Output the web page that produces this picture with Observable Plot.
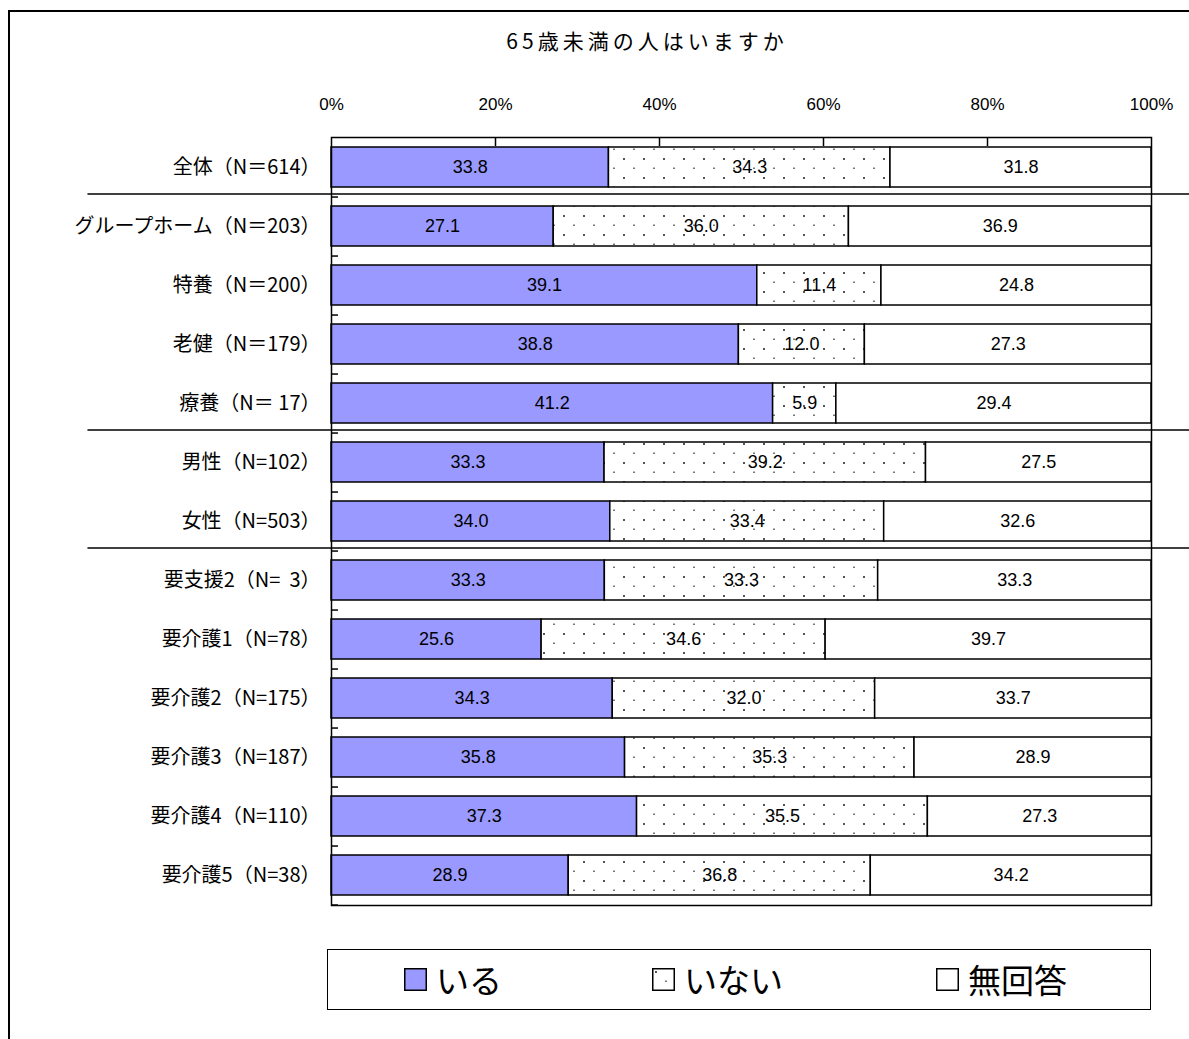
<!DOCTYPE html>
<html><head><meta charset="utf-8">
<script src="https://cdn.jsdelivr.net/npm/d3@7"></script>
<script src="https://cdn.jsdelivr.net/npm/@observablehq/plot@0.6"></script>
<style>
body{margin:0;background:#fff;overflow:hidden;width:1189px;height:1039px;position:relative;font-family:"Noto Sans CJK JP",sans-serif;color:#000}
#frame{position:absolute;left:8px;top:10px;width:1400px;height:1200px;border:2px solid #000;box-sizing:border-box}
#title{position:absolute;left:0;width:1294px;top:25px;text-align:center;font-size:21px;letter-spacing:4px;line-height:30px}
#chart{position:absolute;left:0;top:60px}
#chart svg text{white-space:pre}
#legend{position:absolute;left:327px;top:949px;width:824px;height:61px;border:1.5px solid #000;box-sizing:border-box;background:#fff}
.item{position:absolute;top:0;height:58px;display:flex;align-items:center;font-size:33px;line-height:58px}
.item svg{margin-right:9px}
</style></head>
<body>
<div id="frame"></div>
<div id="title">65歳未満の人はいますか</div>
<div id="chart"></div>
<div id="legend"></div>
<script>
const categories = ["全体（N＝614）", "グループホーム（N＝203）", "特養（N＝200）", "老健（N＝179）", "療養（N＝ 17）", "男性（N=102）", "女性（N=503）", "要支援2（N=  3）", "要介護1（N=78）", "要介護2（N=175）", "要介護3（N=187）", "要介護4（N=110）", "要介護5（N=38）"];
const series = ["いる", "いない", "無回答"];
const iru      = [33.8, 27.1, 39.1, 38.8, 41.2, 33.3, 34.0, 33.3, 25.6, 34.3, 35.8, 37.3, 28.9];
const inai     = [34.3, 36.0, 11.4, 12.0, 5.9, 39.2, 33.4, 33.3, 34.6, 32.0, 35.3, 35.5, 36.8];
const mukaitou = [31.8, 36.9, 24.8, 27.3, 29.4, 27.5, 32.6, 33.3, 39.7, 33.7, 28.9, 27.3, 34.2];
const groupEnds = ["全体（N＝614）", "療養（N＝ 17）", "女性（N=503）"];
const xTicks = [0, 0.2, 0.4, 0.6, 0.8, 1];
const seriesFill = ["#9999FF", "url(#dots)", "#FFFFFF"];

const values = [iru, inai, mukaitou];
const data = [];
categories.forEach((c, i) => series.forEach((s, j) => data.push({cat: c, series: s, value: values[j][i]})));

const marginTop = 77, plotH = 768, marginBottom = 6;
const step = plotH / categories.length;
const numFont = "'Liberation Sans', Arial, sans-serif";

const plot = Plot.plot({
  width: 1189,
  height: marginTop + plotH + marginBottom,
  marginTop, marginBottom,
  marginLeft: 331, marginRight: 38,
  style: {background: "transparent", color: "#000", overflow: "visible"},
  x: {domain: [0, 1], label: null},
  y: {domain: categories, paddingInner: 0.32, paddingOuter: 0.16, label: null},
  color: {domain: series, range: seriesFill},
  marks: [
    Plot.barX(data, Plot.stackX({x: "value", y: "cat", z: "series", fill: "series", offset: "normalize", stroke: "#000", strokeWidth: 1.5})),
    Plot.text(data, Plot.stackX({x: "value", y: "cat", z: "series", offset: "normalize", text: d => d.value.toFixed(1), fontSize: 18, fontFamily: numFont, fill: "#000"})),
    Plot.frame({stroke: "#000", strokeWidth: 1.5}),
    Plot.axisX({anchor: "top", label: null, ticks: xTicks, tickSize: 0, tickPadding: 28, tickFormat: d => Math.round(d * 100) + "%", fontSize: 17, fontFamily: numFont}),
    Plot.axisX({anchor: "top", label: null, ticks: xTicks.slice(1, -1), tickSize: 8, tickFormat: () => "", dy: 8, strokeWidth: 1.5}),
    Plot.axisY({anchor: "left", label: null, tickSize: 0, tickPadding: 11, fontSize: 20, fontFamily: "'Noto Sans CJK JP', sans-serif"}),
    Plot.axisY({anchor: "left", label: null, tickSize: 7, tickFormat: () => "", dx: 7, dy: step / 2, strokeWidth: 1.5}),
    Plot.ruleY(groupEnds, {y: d => d, x1: () => -0.297, x2: () => 1.05, dy: step / 2 - 3, stroke: "#000", strokeWidth: 1.5, clip: false})
  ]
});

const defs = d3.select(plot).insert("defs", ":first-child");
const pat = defs.append("pattern").attr("id", "dots").attr("width", 20).attr("height", 19).attr("patternUnits", "userSpaceOnUse");
pat.append("rect").attr("width", 20).attr("height", 19).attr("fill", "#fff");
pat.append("rect").attr("x", 3).attr("y", 3).attr("width", 2).attr("height", 2).attr("fill", "#555");
pat.append("rect").attr("x", 13).attr("y", 12.5).attr("width", 2).attr("height", 1.5).attr("fill", "#777");
document.getElementById("chart").appendChild(plot);

const legendPos = [76, 324, 608];
const legend = d3.select("#legend");
series.forEach((s, i) => {
  const it = legend.append("div").attr("class", "item").style("left", legendPos[i] + "px");
  const sv = it.append("svg").attr("width", 23).attr("height", 23);
  sv.append("rect").attr("x", 0.75).attr("y", 0.75).attr("width", 21.5).attr("height", 21.5)
    .attr("fill", seriesFill[i]).attr("stroke", "#000").attr("stroke-width", 1.5);
  it.append("span").text(s);
});
</script>
</body></html>
